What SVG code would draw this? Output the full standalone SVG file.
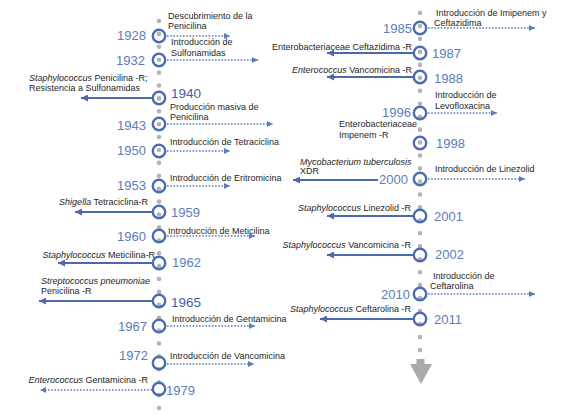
<svg xmlns="http://www.w3.org/2000/svg" width="563" height="418" viewBox="0 0 563 418">
<style>
text{font-family:"Liberation Sans",Arial,sans-serif}
.yr{font-size:13px;fill:#5a7cc0}
.yb{font-size:13.5px;fill:#3a62b2}
.lb{font-size:9px;fill:#1e1e1e}
.it{font-style:italic}
.e{text-anchor:end}
.ring{fill:none;stroke:#4a6cb4;stroke-width:2.4}
.axis{stroke:#b3b3b3;stroke-width:4.6;stroke-linecap:round;fill:none}
.sol{stroke:#4a69b0;stroke-width:2;fill:none;marker-end:url(#ah)}
.dot{stroke:#5a7cc2;stroke-width:1.6;stroke-dasharray:1.6 1.6;fill:none;marker-end:url(#ad)}
</style>
<defs>
<marker id="ah" markerUnits="userSpaceOnUse" markerWidth="8" markerHeight="7" refX="7" refY="3.5" orient="auto"><path d="M0,0 L7,3.5 L0,7 z" fill="#4a69b0"/></marker>
<marker id="ad" markerUnits="userSpaceOnUse" markerWidth="7" markerHeight="6" refX="6" refY="3" orient="auto"><path d="M0,0 L6,3 L0,6 z" fill="#5a7cc2"/></marker>
</defs>
<rect width="563" height="418" fill="#ffffff"/>
<g id="axis">
<line class="axis" x1="159" y1="21" x2="159" y2="408.5" stroke-dasharray="0 12.9"/>
<line class="axis" x1="420" y1="13" x2="420" y2="350.5" stroke-dasharray="0 12.96"/>
<path d="M416.5,359 L424.5,359 L424.5,364 L432,364 L421,384 L410,364 L416.5,364 z" fill="#aaaaaa"/>
</g>
<g id="connectors">
<line class="dot" x1="167" y1="36" x2="230" y2="36"/>
<line class="dot" x1="167" y1="60" x2="258" y2="60"/>
<line class="sol" x1="152" y1="98" x2="81" y2="98"/>
<line class="dot" x1="167" y1="124" x2="273" y2="124"/>
<line class="dot" x1="167" y1="151" x2="230" y2="151"/>
<line class="dot" x1="167" y1="186" x2="230" y2="186"/>
<line class="sol" x1="152" y1="212" x2="75" y2="212"/>
<line class="dot" x1="167" y1="236" x2="255" y2="236"/>
<line class="sol" x1="152" y1="263" x2="58" y2="263"/>
<line class="sol" x1="152" y1="301" x2="39" y2="301"/>
<line class="dot" x1="167" y1="326" x2="255" y2="326"/>
<line class="dot" x1="167" y1="364" x2="254" y2="364"/>
<line class="dot" x1="152" y1="390" x2="40" y2="390"/>
<line class="dot" x1="428" y1="28" x2="535" y2="28"/>
<line class="sol" x1="413" y1="53" x2="327" y2="53"/>
<line class="sol" x1="413" y1="77" x2="327" y2="77"/>
<line class="dot" x1="428" y1="113" x2="497" y2="113"/>
<line class="sol" x1="378" y1="180" x2="293" y2="180"/>
<line class="dot" x1="428" y1="179" x2="525" y2="179"/>
<line class="sol" x1="413" y1="216" x2="327" y2="216"/>
<line class="sol" x1="413" y1="255" x2="327" y2="255"/>
<line class="dot" x1="428" y1="294" x2="535" y2="294"/>
<line class="sol" x1="413" y1="319" x2="320" y2="319"/>
</g>
<g id="e1928"><circle class="ring" cx="159" cy="36" r="6.2"/><text class="yr e" x="146" y="40">1928</text><text class="lb" x="168" y="19">Descubrimiento de la</text><text class="lb" x="168" y="29">Penicilina</text></g>
<g id="e1932"><circle class="ring" cx="159" cy="60" r="6.2"/><text class="yr e" x="145" y="65">1932</text><text class="lb" x="171" y="45">Introducción de</text><text class="lb" x="171" y="56">Sulfonamidas</text></g>
<g id="e1940"><circle class="ring" cx="159" cy="98" r="6.2"/><text class="yb" x="171" y="98">1940</text><text class="lb" x="29" y="81"><tspan class="it">Staphylococcus</tspan> Penicilina -R;</text><text class="lb" x="29" y="91">Resistencia a Sulfonamidas</text></g>
<g id="e1943"><circle class="ring" cx="159" cy="124" r="6.2"/><text class="yr e" x="146" y="130">1943</text><text class="lb" x="170" y="110">Producción masiva de</text><text class="lb" x="170" y="120">Penicilina</text></g>
<g id="e1950"><circle class="ring" cx="159" cy="151" r="6.2"/><text class="yr e" x="146" y="155">1950</text><text class="lb" x="170" y="145">Introducción de Tetraciclina</text></g>
<g id="e1953"><circle class="ring" cx="159" cy="186" r="6.2"/><text class="yr e" x="146" y="190">1953</text><text class="lb" x="170" y="181">Introducción de Eritromicina</text></g>
<g id="e1959"><circle class="ring" cx="159" cy="212" r="6.2"/><text class="yr" x="171" y="217">1959</text><text class="lb e" x="148" y="205"><tspan class="it">Shigella</tspan> Tetraciclina-R</text></g>
<g id="e1960"><circle class="ring" cx="159" cy="236" r="6.2"/><text class="yr e" x="146" y="241">1960</text><text class="lb" x="168" y="234">Introducción de Meticilina</text></g>
<g id="e1962"><circle class="ring" cx="159" cy="263" r="6.2"/><text class="yr" x="172" y="267">1962</text><text class="lb e" x="155" y="258"><tspan class="it">Staphylococcus</tspan> Meticilina-R</text></g>
<g id="e1965"><circle class="ring" cx="159" cy="301" r="6.2"/><text class="yb" x="171" y="307">1965</text><text class="lb it" x="41" y="284">Streptococcus pneumoniae</text><text class="lb" x="41" y="294">Penicilina -R</text></g>
<g id="e1967"><circle class="ring" cx="159" cy="326" r="6.2"/><text class="yr e" x="147" y="331">1967</text><text class="lb" x="172" y="322">Introducción de Gentamicina</text></g>
<g id="e1972"><circle class="ring" cx="159" cy="363" r="6.2"/><text class="yr e" x="148" y="360">1972</text><text class="lb" x="170" y="359">Introducción de Vancomicina</text></g>
<g id="e1979"><circle class="ring" cx="159" cy="389" r="6.2"/><text class="yr" x="166" y="395">1979</text><text class="lb e" x="148" y="383"><tspan class="it">Enterococcus</tspan> Gentamicina -R</text></g>
<g id="e1985"><circle class="ring" cx="420" cy="28" r="6.2"/><text class="yr e" x="412" y="33">1985</text><text class="lb" x="436" y="16">Introducción de  Imipenem y</text><text class="lb" x="434" y="26">Ceftazidima</text></g>
<g id="e1987"><circle class="ring" cx="420" cy="53" r="6.2"/><text class="yr" x="432" y="58">1987</text><text class="lb e" x="412" y="50">Enterobacteriaceae Ceftazidima -R</text></g>
<g id="e1988"><circle class="ring" cx="420" cy="77" r="6.2"/><text class="yr" x="434" y="83">1988</text><text class="lb e" x="412" y="73"><tspan class="it">Enterococcus</tspan> Vancomicina -R</text></g>
<g id="e1996"><circle class="ring" cx="420" cy="113" r="6.2"/><text class="yr e" x="411" y="117">1996</text><text class="lb" x="435" y="98">Introducción de</text><text class="lb" x="435" y="109">Levofloxacina</text></g>
<g id="e1998"><circle class="ring" cx="420" cy="143" r="6.2"/><text class="yr" x="436" y="148">1998</text><text class="lb" x="339" y="127">Enterobacteriaceae</text><text class="lb" x="339" y="138">Impenem -R</text></g>
<g id="e2000"><circle class="ring" cx="420" cy="179" r="6.2"/><text class="yr e" x="408" y="184">2000</text><text class="lb it" x="300" y="165">Mycobacterium tuberculosis</text><text class="lb" x="300" y="174">XDR</text><text class="lb" x="435" y="172">Introducción de Linezolid</text></g>
<g id="e2001"><circle class="ring" cx="420" cy="216" r="6.2"/><text class="yr" x="434" y="221">2001</text><text class="lb e" x="411" y="211"><tspan class="it">Staphylococcus</tspan> Linezolid -R</text></g>
<g id="e2002"><circle class="ring" cx="420" cy="255" r="6.2"/><text class="yr" x="435" y="259">2002</text><text class="lb e" x="411" y="248"><tspan class="it">Staphylococcus</tspan> Vancomicina -R</text></g>
<g id="e2010"><circle class="ring" cx="420" cy="294" r="6.2"/><text class="yr e" x="410" y="299">2010</text><text class="lb" x="433" y="279">Introducción de</text><text class="lb" x="430" y="289">Ceftarolina</text></g>
<g id="e2011"><circle class="ring" cx="420" cy="319" r="6.2"/><text class="yr" x="434" y="324">2011</text><text class="lb e" x="411" y="312"><tspan class="it">Staphylococcus</tspan> Ceftarolina -R</text></g>
</svg>
